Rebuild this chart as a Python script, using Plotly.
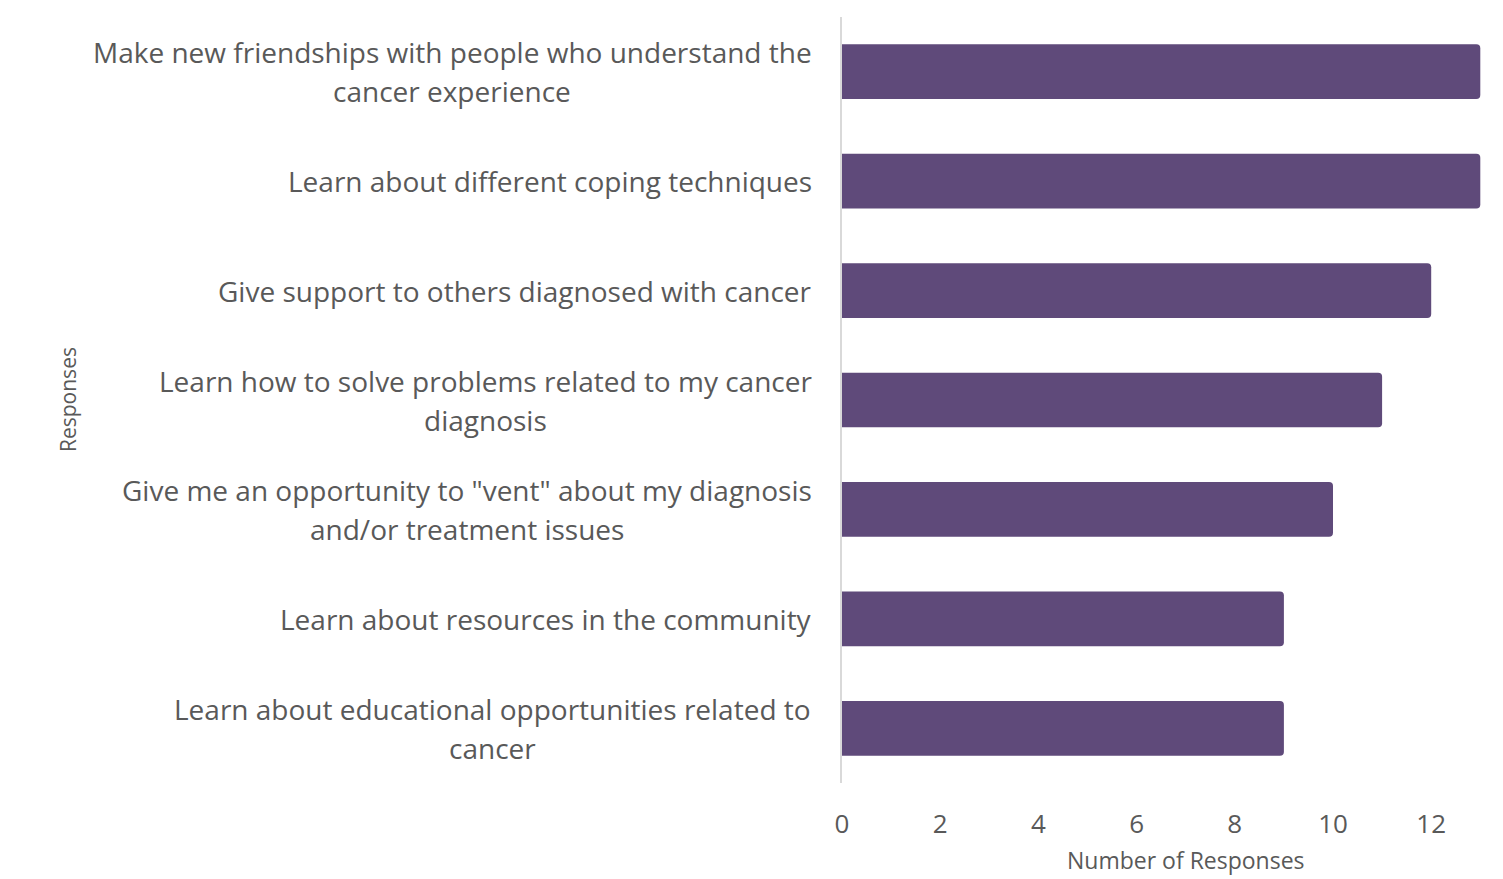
import plotly.graph_objects as go

# Survey: what respondents hope to gain from a support group
categories = [
    ["Make new friendships with people who understand the", "cancer experience"],
    ["Learn about different coping techniques"],
    ["Give support to others diagnosed with cancer"],
    ["Learn how to solve problems related to my cancer", "diagnosis"],
    ["Give me an opportunity to \"vent\" about my diagnosis", "and/or treatment issues"],
    ["Learn about resources in the community"],
    ["Learn about educational opportunities related to", "cancer"],
]
counts = [13, 13, 12, 11, 10, 9, 9]
tick_values = [0, 2, 4, 6, 8, 10, 12]

W, H = 1503, 879
L, R, T, B = 842, 0, 17, 96
FONT = "Open Sans"
GREY = "#595959"
BAR = "#5f4a7a"
LABEL_SIZE = 28
LINE_GAP = 39          # px between wrapped label lines
LABEL_RIGHT = 814      # px, right edge anchor of single-line labels

keys = [" ".join(c) for c in categories]
px_per_unit = 49.1
plot_w = W - L - R
x_max = plot_w / px_per_unit

# horizontal centre (px) of each wrapped label block
wrap_centres = {0: 452, 3: 485, 4: 466.5, 6: 493}


def paper_x(px):
    return (px - L) / plot_w


fig = go.Figure(
    go.Bar(
        x=counts,
        y=keys,
        orientation="h",
        marker=dict(color=BAR, line=dict(width=0)),
        width=0.5,
        hoverinfo="x+y",
    )
)

# Category labels
for idx, (key, lines) in enumerate(zip(keys, categories)):
    n = len(lines)
    for i, line in enumerate(lines):
        offset = (i - (n - 1) / 2) * LINE_GAP
        if n == 1:
            pos = dict(x=paper_x(LABEL_RIGHT), xanchor="right")
        else:
            pos = dict(x=paper_x(wrap_centres[idx]), xanchor="center")
        fig.add_annotation(
            **pos, xref="paper",
            y=key, yref="y", yanchor="middle", yshift=-offset,
            text=line, showarrow=False,
            font=dict(family=FONT, size=LABEL_SIZE, color=GREY),
        )

# Axis titles
fig.add_annotation(
    x=paper_x(1186), xref="paper", y=0, yref="paper", xanchor="center",
    yanchor="bottom", yshift=-(B - 1),
    text="Number of Responses", showarrow=False,
    font=dict(family=FONT, size=23, color=GREY),
)
fig.add_annotation(
    x=paper_x(68), xref="paper", y=0.5, yref="paper",
    xanchor="center", yanchor="middle",
    yshift=-((400 - T) - (H - B - T) / 2),
    text="Responses", textangle=-90, showarrow=False,
    font=dict(family=FONT, size=21, color=GREY),
)

fig.update_layout(
    width=W, height=H,
    margin=dict(l=L, r=R, t=T, b=B, pad=0),
    paper_bgcolor="white", plot_bgcolor="white",
    showlegend=False,
    barcornerradius=4,
    xaxis=dict(
        range=[0, x_max], tickvals=tick_values,
        showgrid=False, zeroline=False, showline=False,
        ticks="", ticklabelstandoff=23,
        tickfont=dict(family=FONT, size=26, color=GREY),
        fixedrange=True,
    ),
    yaxis=dict(
        categoryorder="array", categoryarray=keys[::-1],
        showticklabels=False, ticks="",
        showgrid=False, zeroline=False,
        showline=True, linecolor="#d9d9d9", linewidth=2,
        fixedrange=True,
    ),
)

fig.write_html("out.html", config={"displayModeBar": False})
